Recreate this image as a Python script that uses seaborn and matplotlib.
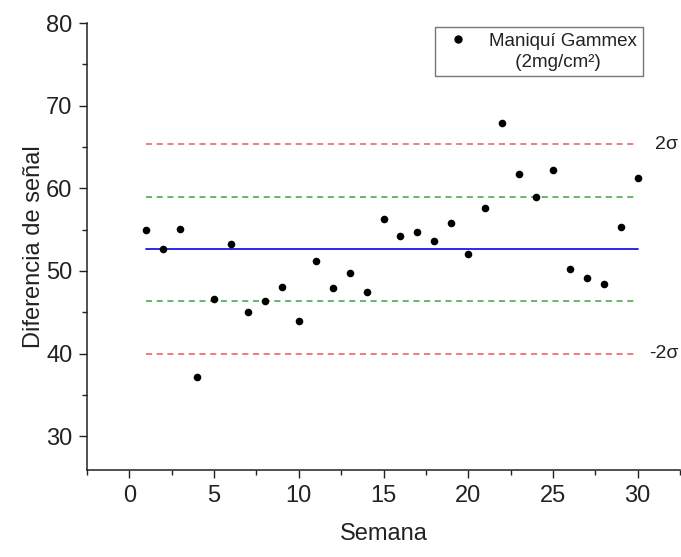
import numpy as np
import pandas as pd
import seaborn as sns
import matplotlib.pyplot as plt
from matplotlib.lines import Line2D
from matplotlib.ticker import MultipleLocator

semana = list(range(1, 31))
diferencia = [54.9, 52.7, 55.1, 37.2, 46.6, 53.3, 45.0, 46.4, 48.1, 44.0,
              51.15, 47.9, 49.8, 47.5, 56.3, 54.2, 54.7, 53.6, 55.8, 52.1,
              57.6, 67.9, 61.7, 58.9, 62.2, 50.2, 49.2, 48.4, 55.3, 61.3]

# control limits
media = 52.65
lim_1s = [46.35, 58.95]
lim_2s = [40.0, 65.3]
lim_labels = ['-2\u03c3', '2\u03c3']

df = pd.DataFrame({'Semana': semana, 'Diferencia de señal': diferencia})

sns.set_style('ticks')
plt.rcParams['font.family'] = ['Liberation Sans', 'DejaVu Sans']

fig = plt.figure(figsize=(6.81, 5.57), dpi=100)
ax = fig.add_axes([0.1278, 0.156, 0.8707, 0.8027])

x0, x1 = semana[0], semana[-1]
for y in lim_2s:
    ax.plot([x0, x1], [y, y], ls=(0, (4, 3)), color='#e85a5a', lw=1.1, zorder=1)
for y in lim_1s:
    ax.plot([x0, x1], [y, y], ls=(0, (4, 3)), color='#3fa63f', lw=1.1, zorder=1)
ax.plot([x0, x1], [media, media], color='#1a1ae6', lw=1.3, zorder=1)

sns.scatterplot(data=df, x='Semana', y='Diferencia de señal', ax=ax,
                color='black', s=30, edgecolor='black', linewidth=0, zorder=3,
                legend=False)

for y, lab in zip(lim_2s, lim_labels):
    ax.text(32.4, y, lab, ha='right', va='center', fontsize=14, color='#222222')

ax.set_xlim(-2.5, 32.5)
ax.set_ylim(25.9, 80)
ax.xaxis.set_major_locator(MultipleLocator(5))
ax.xaxis.set_minor_locator(MultipleLocator(2.5))
ax.yaxis.set_major_locator(MultipleLocator(10))
ax.yaxis.set_minor_locator(MultipleLocator(5))
ax.set_yticks([30, 40, 50, 60, 70, 80])
ax.tick_params(which='major', length=5.5, width=1, labelsize=17, colors='#222222', pad=5)
ax.tick_params(which='minor', length=3.5, width=1, colors='#222222')
ax.set_xlabel('Semana', fontsize=17, color='#222222', labelpad=12)
ax.set_ylabel('Diferencia de señal', fontsize=17, color='#222222', labelpad=1)
for s in ['left', 'bottom']:
    ax.spines[s].set_color('#222222')
    ax.spines[s].set_linewidth(1.1)
sns.despine(ax=ax)

# legend: marker on the first line, second line centred below it
handles = [Line2D([], [], ls='none', marker='o', color='black', markersize=5),
           Line2D([], [], ls='none', marker=None)]
labels = ['Maniquí Gammex', '     (2mg/cm²)']
leg = ax.legend(handles, labels, loc='upper right', bbox_to_anchor=(0.9376, 0.991),
                borderaxespad=0, frameon=True, fancybox=False, edgecolor='#555555',
                fontsize=13.5, handletextpad=0.8, borderpad=0.3, labelspacing=0.2,
                handlelength=1.8)
leg.get_frame().set_linewidth(1.0)
for t in leg.get_texts():
    t.set_color('#222222')

fig.savefig('out.png', dpi=100)
